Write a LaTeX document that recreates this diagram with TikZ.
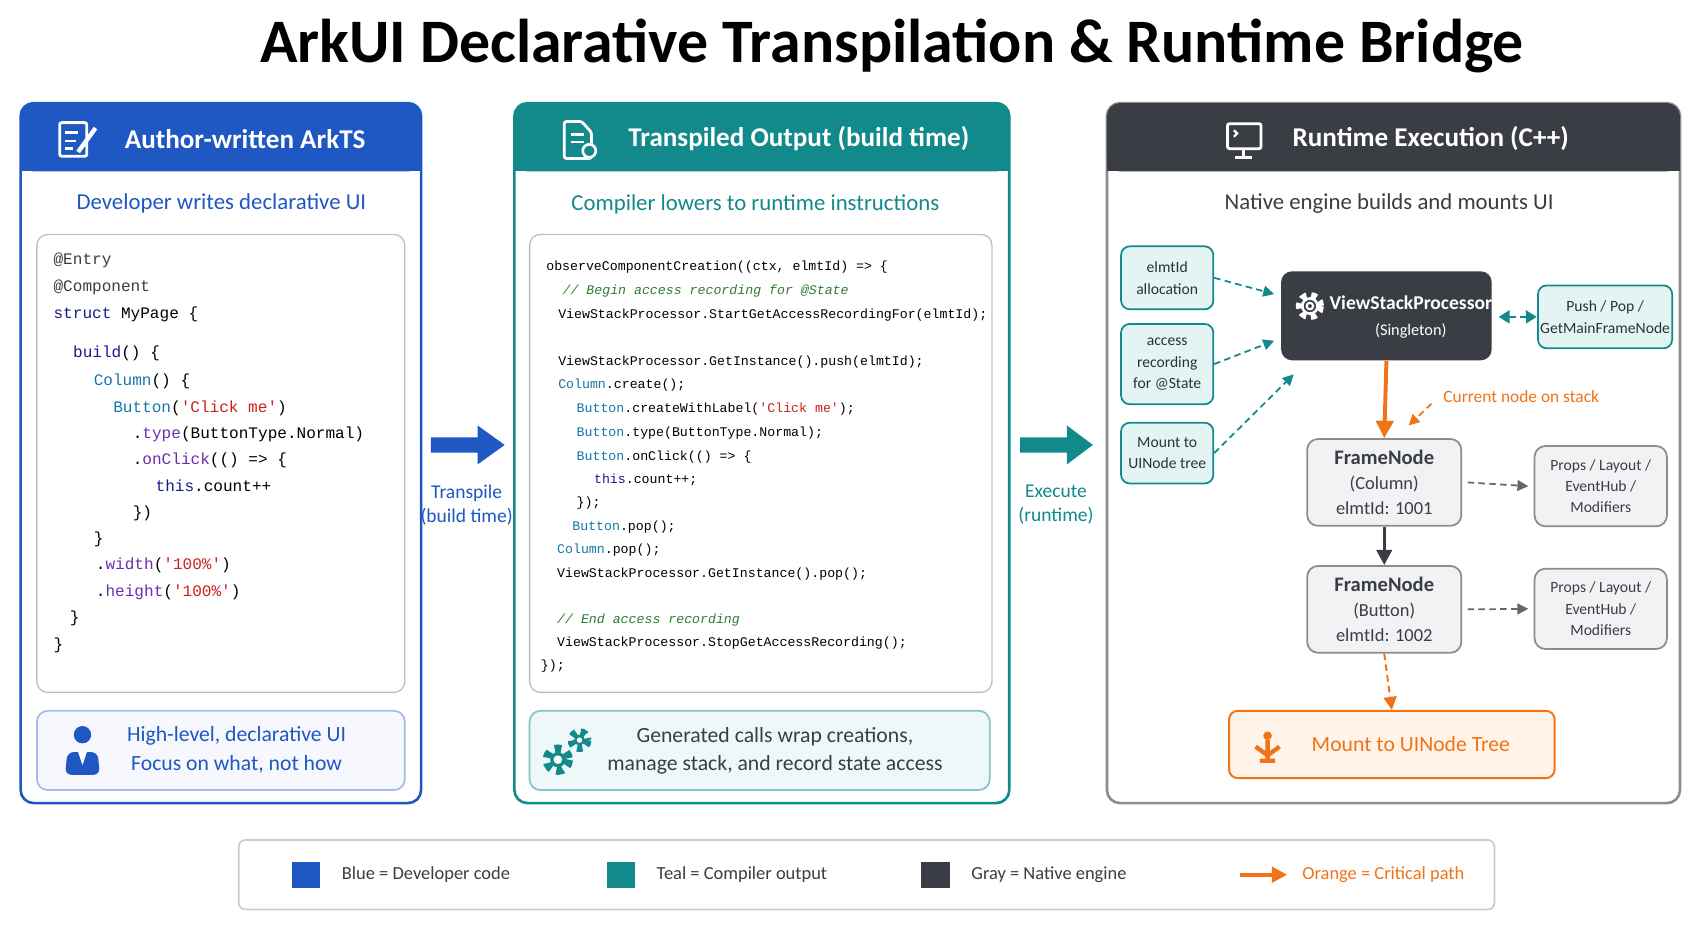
\documentclass[tikz,border=0pt]{standalone}
\usepackage{fontspec}
\setmainfont{Carlito}
\newfontfamily\codefont{Liberation Mono}
\usetikzlibrary{arrows.meta,positioning}
\definecolor{cblue}{HTML}{1F57C3}
\definecolor{cteal}{HTML}{12898A}
\definecolor{cdark}{HTML}{3A3D44}
\definecolor{corange}{HTML}{F07317}
\definecolor{lteal}{HTML}{E4F4F3}
\definecolor{lgray}{HTML}{F1F2F4}
\definecolor{lorange}{HTML}{FFF3EA}
\definecolor{kw}{HTML}{1A1A8C}
\definecolor{fn}{HTML}{6A2FB0}
\definecolor{str}{HTML}{C8231E}
\definecolor{typ}{HTML}{1478A8}
\definecolor{cmt}{HTML}{2E7D32}
\tikzset{
 panel/.style={draw=#1,line width=1.2pt,rounded corners=6pt,fill=white},
 hdr/.style={text=white,font=\fontsize{12.5}{14}\selectfont\bfseries,anchor=west},
 sub/.style={font=\fontsize{10.5}{12}\selectfont,text=#1},
 cbox/.style={draw=black!25,line width=0.6pt,rounded corners=5pt,fill=white},
 c1/.style={anchor=west,font=\codefont\fontsize{7.4}{9}\selectfont,inner sep=0},
 c2/.style={anchor=west,font=\codefont\fontsize{6.1}{8}\selectfont,inner sep=0},
 sbox/.style={draw=cteal,fill=lteal,rounded corners=4pt,line width=0.8pt,align=center,font=\fontsize{7.2}{10}\selectfont,text=cdark!80!black,minimum width=42.5pt,inner sep=1pt},
 gbox/.style={draw=black!45,fill=lgray,rounded corners=5pt,line width=0.8pt,align=center,text=cdark},
 tdash/.style={cteal,densely dashed,line width=0.8pt,-{Triangle[length=5pt,width=5pt]}},
 gdash/.style={black!60,densely dashed,line width=0.8pt,-{Triangle[length=5pt,width=5pt]}},
}
\begin{document}
\begin{tikzpicture}[x=0.5pt,y=-0.5pt]
\useasboundingbox (0,0) rectangle (1560,856);
\fill[white] (0,0) rectangle (1560,856);
\node (title) at (822,42) {\fontsize{28.5}{30}\selectfont\bfseries ArkUI Declarative Transpilation \& Runtime Bridge};

% Panel 1
\draw[panel=cblue] (19,95) rectangle (388,740);
\fill[cblue,rounded corners=6pt] (19,158) -- (19,95) -- (388,95) -- (388,158) -- cycle;
\fill[cblue] (19,140) rectangle (388,158);
\draw[white,line width=1.3pt,rounded corners=1pt] (55,113) rectangle (80,144);
\draw[white,line width=1.1pt] (60,122)--(72,122) (60,130)--(70,130) (60,137)--(67,137);
\draw[white,line width=2pt] (72,140)--(88,118);
\node[hdr] (h1) at (108,128) {Author-written ArkTS};
\node[sub=cblue] (s1) at (204,187) {Developer writes declarative UI};
\draw[cbox] (34,216) rectangle (373,638);
\node[c1] at (49,240) {\textcolor{cdark}{@Entry}};
\node[c1] at (49,265) {\textcolor{cdark}{@Component}};
\node[c1] at (49,290) {\textcolor{kw}{struct} MyPage \{};
\node[c1] at (67,326) {\textcolor{kw}{build}() \{};
\node[c1] at (86,351) {\textcolor{typ}{Column}() \{};
\node[c1] at (104,376) {\textcolor{typ}{Button}(\textcolor{str}{'Click me'})};
\node[c1] at (122,400) {.\textcolor{fn}{type}(ButtonType.Normal)};
\node[c1] at (122,424) {.\textcolor{fn}{onClick}(() => \{};
\node[c1] at (143,448) {\textcolor{kw}{this}.count++};
\node[c1] at (122,473) {\})};
\node[c1] at (86,497) {\}};
\node[c1] at (88,521) {.\textcolor{fn}{width}(\textcolor{str}{'100\%'})};
\node[c1] at (88,546) {.\textcolor{fn}{height}(\textcolor{str}{'100\%'})};
\node[c1] at (64,570) {\}};
\node[c1] at (49,595) {\}};
\draw[draw=cblue!40,fill=cblue!4,rounded corners=5pt,line width=0.8pt] (34,655) rectangle (373,728);
\fill[cblue] (76,677) circle (8);
\fill[cblue,rounded corners=3pt] (60,714) -- (62,693) -- (90,693) -- (92,714) -- cycle;
\fill[white] (72,693) -- (76,705) -- (80,693) -- cycle;
\node[align=center,text=cblue,font=\fontsize{10}{13}\selectfont] (b1) at (218,691) {High-level, declarative UI\\Focus on what, not how};

% Arrow 1
\fill[cblue] (397,403) -- (440,403) -- (440,392) -- (465,410) -- (440,428) -- (440,417) -- (397,417) -- cycle;
\node[align=center,text=cblue,font=\fontsize{9}{11}\selectfont] (a1) at (430,465) {Transpile\\(build time)};

% Panel 2
\draw[panel=cteal] (474,95) rectangle (930,740);
\fill[cteal,rounded corners=6pt] (474,158) -- (474,95) -- (930,95) -- (930,158) -- cycle;
\fill[cteal] (474,140) rectangle (930,158);
\draw[white,line width=1.3pt,rounded corners=1pt] (520,112) -- (520,146) -- (545,146) -- (545,122) -- (536,112) -- cycle;
\draw[white,line width=1pt] (526,124)--(538,124) (526,131)--(538,131);
\fill[cteal] (543,139) circle (7); \draw[white,line width=1.2pt] (543,139) circle (6);
\node[hdr] (h2) at (572,128) {Transpiled Output (build time)};
\node[sub=cteal] (s2) at (696,188) {Compiler lowers to runtime instructions};
\draw[cbox] (488,216) rectangle (914,638);
\node[c2] at (503,246) {observeComponentCreation((ctx, elmtId) => \{};
\node[c2] at (518,268) {\textcolor{cmt}{\itshape // Begin access recording for @State}};
\node[c2] at (514,290) {ViewStackProcessor.StartGetAccessRecordingFor(elmtId);};
\node[c2] at (514,334) {ViewStackProcessor.GetInstance().push(elmtId);};
\node[c2] at (514,355) {\textcolor{typ}{Column}.create();};
\node[c2] at (531,377) {\textcolor{typ}{Button}.createWithLabel(\textcolor{str}{'Click me'});};
\node[c2] at (531,399) {\textcolor{typ}{Button}.type(ButtonType.Normal);};
\node[c2] at (531,421) {\textcolor{typ}{Button}.onClick(() => \{};
\node[c2] at (547,442) {\textcolor{kw}{this}.count++;};
\node[c2] at (531,464) {\});};
\node[c2] at (527,486) {\textcolor{typ}{Button}.pop();};
\node[c2] at (513,507) {\textcolor{typ}{Column}.pop();};
\node[c2] at (513,529) {ViewStackProcessor.GetInstance().pop();};
\node[c2] at (513,571) {\textcolor{cmt}{\itshape // End access recording}};
\node[c2] at (513,593) {ViewStackProcessor.StopGetAccessRecording();};
\node[c2] at (498,614) {\});};
\draw[draw=cteal!50,fill=lteal!60,rounded corners=5pt,line width=0.8pt] (488,655) rectangle (912,728);
\draw[cteal,line width=4pt,dash pattern=on 3pt off 2.5pt] (514,700) circle (10);
\fill[cteal] (514,700) circle (7); \fill[white] (514,700) circle (4);
\draw[cteal,line width=3.5pt,dash pattern=on 2.5pt off 2pt] (534,682) circle (7.5);
\fill[cteal] (534,682) circle (5); \fill[white] (534,682) circle (2.5);
\node[align=center,text=cdark,font=\fontsize{10}{13}\selectfont] (b2) at (714,692) {Generated calls wrap creations,\\manage stack, and record state access};

% Arrow 2
\fill[cteal] (940,403) -- (983,403) -- (983,392) -- (1007,410) -- (983,428) -- (983,417) -- (940,417) -- cycle;
\node[align=center,text=cteal,font=\fontsize{9}{11}\selectfont] (a2) at (973,465) {Execute\\(runtime)};

% Panel 3
\draw[panel=black!45] (1020,95) rectangle (1548,740);
\fill[cdark,rounded corners=6pt] (1020,158) -- (1020,95) -- (1548,95) -- (1548,158) -- cycle;
\fill[cdark] (1020,140) rectangle (1548,158);
\draw[white,line width=1.3pt,rounded corners=1pt] (1131,114) rectangle (1162,137);
\draw[white,line width=1.3pt] (1146,137)--(1146,144) (1138,145)--(1154,145);
\draw[white,line width=1pt] (1137,120)--(1140,123)--(1137,126);
\node[hdr] (h3) at (1184,128) {Runtime Execution (C++)};
\node[sub=cdark] (s3) at (1280,188) {Native engine builds and mounts UI};

\node[sbox,minimum height=29pt] (el) at (1075.5,256) {elmtId\\allocation};
\node[sbox,minimum height=37pt] (ar) at (1075.5,335.5) {access\\recording\\for @State};
\node[sbox,minimum height=28pt] (mt) at (1075.5,417.5) {Mount to\\UINode tree};

\node[fill=cdark,rounded corners=5pt,minimum width=97pt,minimum height=41pt] (vsp) at (1277.5,291) {};
\draw[white,line width=3pt,dash pattern=on 2.6pt off 2.2pt] (1207,282) circle (10);
\draw[white,line width=1.2pt] (1207,282) circle (7);
\draw[white,line width=1pt] (1207,282) circle (3);
\node[text=white,align=center,font=\fontsize{9}{12}\selectfont] (vspt) at (1300,292) {\textbf{ViewStackProcessor}\\{\fontsize{7.5}{10}\selectfont (Singleton)}};
\node[sbox,minimum width=57pt,minimum height=29pt] (pp) at (1479,292) {Push / Pop /\\GetMainFrameNode};

\node[gbox,minimum width=71pt,minimum height=40pt,font=\fontsize{8.5}{11.5}\selectfont] (f1) at (1275.5,444.5) {{\fontsize{9.5}{11}\selectfont\bfseries FrameNode}\\(Column)\\elmtId: 1001};
\node[gbox,minimum width=61pt,minimum height=37pt,font=\fontsize{7.2}{9.8}\selectfont] (p1) at (1475,448) {Props / Layout /\\EventHub /\\Modifiers};
\node[gbox,minimum width=71pt,minimum height=40pt,font=\fontsize{8.5}{11.5}\selectfont] (f2) at (1275.5,561.5) {{\fontsize{9.5}{11}\selectfont\bfseries FrameNode}\\(Button)\\elmtId: 1002};
\node[gbox,minimum width=61pt,minimum height=37pt,font=\fontsize{7.2}{9.8}\selectfont] (p2) at (1475,561) {Props / Layout /\\EventHub /\\Modifiers};
\node[draw=corange,fill=lorange,rounded corners=4pt,line width=0.9pt,minimum width=150pt,minimum height=31pt] (mu) at (1282.5,686) {};
\node[text=corange,font=\fontsize{10}{12}\selectfont] (mut) at (1300,686) {Mount to UINode Tree};
\fill[corange] (1168,678) circle (4);
\draw[corange,line width=2pt] (1168,682)--(1168,700) (1157,688)--(1168,696)--(1179,688) (1161,701)--(1175,701);

\node[text=corange,font=\fontsize{8}{10}\selectfont,anchor=west] (cn) at (1323,365) {Current node on stack};
\coordinate (cna) at (1319,372);
\coordinate (cnb) at (1298,392);
\coordinate (vspl) at (1381,292);
\coordinate (ppl) at (1416,292);

\draw[tdash] (el.east) -- (1174,271);
\draw[tdash] (ar.east) -- (1174,314);
\draw[tdash] (mt.east) -- (1192,345);
\draw[cteal,line width=0.9pt,densely dashed,{Triangle[length=5pt,width=6pt]}-{Triangle[length=5pt,width=6pt]}] (vspl) -- (ppl);
\draw[corange,line width=1.8pt,-{Triangle[length=8pt,width=8pt]}] (vsp.south) -- (f1.north);
\draw[corange,densely dashed,line width=0.8pt,-{Triangle[length=5pt,width=5pt]}] (cna) -- (cnb);
\draw[cdark,line width=1.6pt,-{Triangle[length=7pt,width=7pt]}] (f1.south) -- (f2.north);
\draw[gdash] (f1.east) ++(5,0) -- ([xshift=-2.5pt]p1.west);
\draw[gdash] (f2.east) ++(5,0) -- ([xshift=-2.5pt]p2.west);
\draw[corange,densely dashed,line width=0.9pt,-{Triangle[length=6pt,width=6pt]}] (f2.south) -- (mu.north);

% Legend
\draw[draw=black!20,fill=white,rounded corners=3pt,line width=0.8pt] (220,774) rectangle (1377,838);
\fill[cblue] (269,794) rectangle (295,818);
\node[anchor=west,font=\fontsize{8.5}{10}\selectfont,text=cdark] (l1) at (308,806) {Blue = Developer code};
\fill[cteal] (559,794) rectangle (585,818);
\node[anchor=west,font=\fontsize{8.5}{10}\selectfont,text=cdark] (l2) at (598,806) {Teal = Compiler output};
\fill[cdark] (849,794) rectangle (875,818);
\node[anchor=west,font=\fontsize{8.5}{10}\selectfont,text=cdark] (l3) at (888,806) {Gray = Native engine};
\coordinate (la) at (1143,806);
\coordinate (lb) at (1186,806);
\draw[corange,line width=1.8pt,-{Triangle[length=7pt,width=7pt]}] (la) -- (lb);
\node[anchor=west,font=\fontsize{8.5}{10}\selectfont,text=corange] (l4) at (1193,806) {Orange = Critical path};
\end{tikzpicture}
\end{document}
